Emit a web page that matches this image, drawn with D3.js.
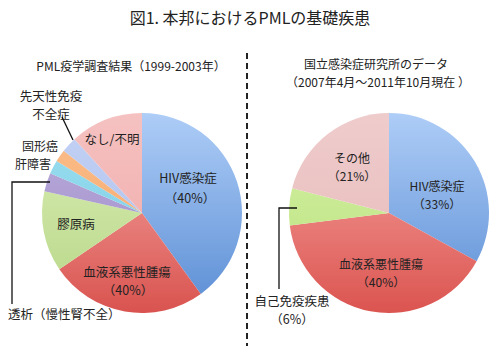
<!DOCTYPE html>
<html><head><meta charset="utf-8">
<script src="https://cdn.jsdelivr.net/npm/d3@7/dist/d3.min.js"></script>
<style>body{margin:0;background:#fff;}svg{display:block;font-family:"Noto Sans CJK JP","Noto Sans",sans-serif;}</style>
</head><body>
<svg id="c" width="500" height="347"></svg>
<script>
// Left pie: PML疫学調査結果 (1999-2003)
const leftCategories = ["HIV感染症","血液系悪性腫瘍","膠原病","透析（慢性腎不全）","肝障害","固形癌","先天性免疫不全症","なし/不明"];
const leftValues = [40, 25.5, 13, 3, 2.2, 2, 2.5, 11.8];
const leftColors = [["#aecdf7","#5a8dd4"],["#f7aeaa","#d9534f"],["#dcefb6","#b6d687"],["#c0b2de","#9583c4"],["#a0e0f0","#70c8e4"],["#fbc08e","#f6a060"],["#c4d2f4","#a8bcec"],["#f5c2c1","#eea6a5"]];
// Right pie: 国立感染症研究所のデータ
const rightCategories = ["HIV感染症","血液系悪性腫瘍","自己免疫疾患","その他"];
const rightValues = [33, 40, 6, 21];
const rightColors = [["#aecdf7","#5a8dd4"],["#f9aaa6","#db5450"],["#d8f2a8","#b6e07a"],["#efcccc","#e6b8b8"]];

const svg = d3.select("#c");
const defs = svg.append("defs");

function drawPie(id, cx, cy, r, values, colors) {
  const pie = d3.pie().sort(null).value(d => d)(values);
  const arc = d3.arc().innerRadius(0).outerRadius(r);
  const g = svg.append("g").attr("transform", `translate(${cx},${cy})`);
  pie.forEach((p, i) => {
    const gid = `${id}g${i}`;
    const lg = defs.append("linearGradient").attr("id", gid)
      .attr("gradientUnits", "userSpaceOnUse")
      .attr("x1", 0).attr("y1", -r).attr("x2", 0).attr("y2", r);
    lg.append("stop").attr("offset", "0%").attr("stop-color", colors[i][0]);
    lg.append("stop").attr("offset", "100%").attr("stop-color", colors[i][1]);
    g.append("path").attr("d", arc(p)).attr("fill", `url(#${gid})`);
  });
  return pie;
}

drawPie("L", 142, 213, 100, leftValues, leftColors);
drawPie("R", 389, 213, 100, rightValues, rightColors);

// divider
svg.append("line").attr("x1", 247).attr("x2", 247).attr("y1", 53).attr("y2", 346)
  .attr("stroke", "#222").attr("stroke-width", 2).attr("stroke-dasharray", "6,4");

function text(x, y, s, size, anchor) {
  svg.append("text").attr("x", x).attr("y", y).attr("text-anchor", anchor || "middle")
    .attr("dominant-baseline", "central").attr("font-size", size).attr("fill", "#222").text(s);
}
text(250, 17, "図1. 本邦におけるPMLの基礎疾患", 16);
text(131, 65, "PML疫学調査結果（1999-2003年）", 12);
text(376, 63, "国立感染症研究所のデータ", 12);
text(378, 81, "（2007年4月～2011年10月現在 ）", 12);

// left labels
text(188, 177, "HIV感染症", 12.5);
text(190, 197, "（40%）", 12.5);
text(112, 138, "なし/不明", 12.5);
text(51, 95, "先天性免疫", 12.5);
text(51, 113, "不全症", 12.5);
text(40, 145, "固形癌", 12);
text(33, 163, "肝障害", 12);
text(76, 223, "膠原病", 12.5);
text(127, 271, "血液系悪性腫瘍", 12.5);
text(128, 289, "（40%）", 12.5);
text(8, 313, "透析（慢性腎不全）", 12.5, "start");

// right labels
text(352, 157, "その他", 12);
text(352, 175, "（21%）", 12);
text(437, 185, "HIV感染症", 12);
text(437, 203, "（33%）", 12);
text(381, 263, "血液系悪性腫瘍", 12);
text(381, 281, "（40%）", 12);
text(292, 300, "自己免疫疾患", 12.5);
text(292, 318, "（6%）", 12.5);

// leader lines
const line = d3.line();
function leader(pts) {
  svg.append("path").attr("d", line(pts)).attr("fill", "none").attr("stroke", "#111").attr("stroke-width", 1.3);
}
leader([[62, 117], [73, 140]]);
leader([[50, 182], [12, 182], [12, 304]]);
leader([[297, 208], [279, 208], [279, 289]]);
</script>
</body></html>
